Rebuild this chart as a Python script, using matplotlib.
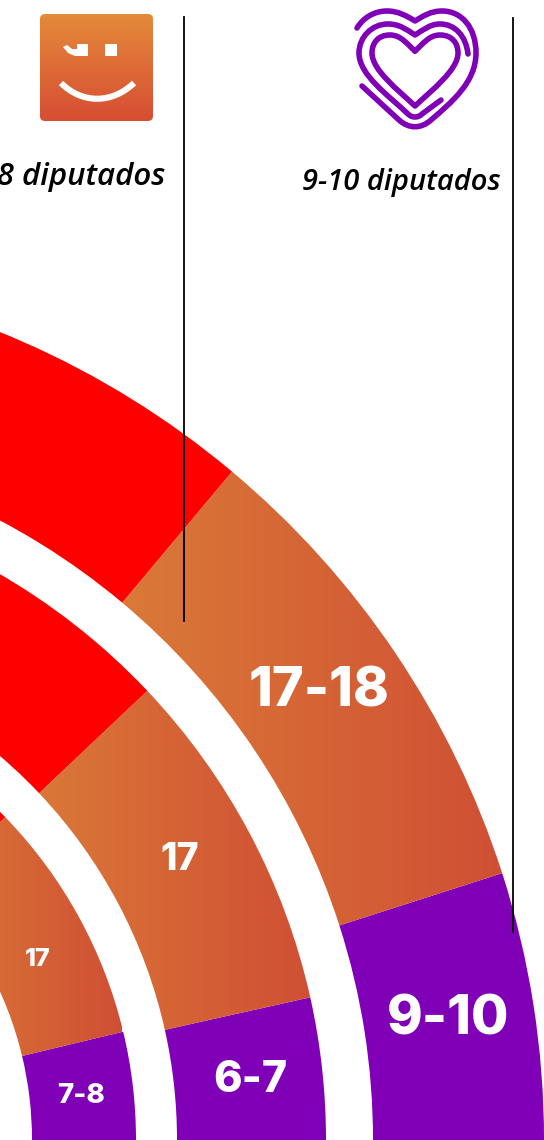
import numpy as np
import matplotlib
matplotlib.use('Agg')
import matplotlib.pyplot as plt
from matplotlib.colors import LinearSegmentedColormap
from matplotlib.patches import Wedge, FancyBboxPatch, PathPatch, Polygon, Rectangle
from matplotlib.path import Path

# share of the half circle (percent), inner ring to outer ring
purple_share = [7.5, 7.0, 9.9]
orange_share = [17.0, 17.1, 17.9]
purple_labels = ['7-8', '6-7', '9-10']
orange_labels = ['17', '17', '17-18']
party_labels = ['17-18 diputados', '9-10 diputados']

PURPLE = '#8000B8'
RED = '#FF0000'
LABEL_FONT = 'Inter'
cx, cy = -328, 1140
rings = [(360, 464), (505, 654), (701, 872)]
grad_x = [(-80, 122), (10, 312), (100, 502)]
orange_cmap = LinearSegmentedColormap.from_list('orange', ['#DB7C38', '#D04F34'])
icon_cmap = LinearSegmentedColormap.from_list('icon', ['#E58A3A', '#D64D33'])

fig = plt.figure(figsize=(5.44, 11.4), dpi=100)
ax = fig.add_axes([0, 0, 1, 1])


def sector(start, end, r_in, r_out, color):
    # y axis is flipped, so the angles change sign
    w = Wedge((cx, cy), r_out, -end * 1.8, -start * 1.8, width=r_out - r_in,
              facecolor=color, edgecolor='none')
    ax.add_patch(w)
    return w


grad = np.linspace(0, 1, 256)
for i in range(3):
    r_in, r_out = rings[i]
    p = purple_share[i]
    o = orange_share[i]
    sector(0, p, r_in, r_out, PURPLE)
    w = sector(p, p + o, r_in, r_out, 'none')
    im = ax.imshow(grad.reshape(1, -1), cmap=orange_cmap, aspect='auto',
                   extent=(grad_x[i][0], grad_x[i][1], 1140, 0), zorder=1)
    im.set_clip_path(w)
    sector(p + o, 100, r_in, r_out, RED)

# ring labels
ax.text(81, 1096, purple_labels[0], color='white', fontsize=20, family=LABEL_FONT, weight=800, ha='center', va='center')
ax.text(250, 1081, purple_labels[1], color='white', fontsize=31, family=LABEL_FONT, weight=800, ha='center', va='center')
ax.text(448, 1020, purple_labels[2], color='white', fontsize=39, family=LABEL_FONT, weight=800, ha='center', va='center')
ax.text(38, 959, orange_labels[0], color='white', fontsize=18, family=LABEL_FONT, weight=800, ha='center', va='center')
ax.text(180, 860, orange_labels[1], color='white', fontsize=27, family=LABEL_FONT, weight=800, ha='center', va='center')
ax.text(319, 692, orange_labels[2], color='white', fontsize=39, family=LABEL_FONT, weight=800, ha='center', va='center')

# party labels and lines
ax.text(165, 185, party_labels[0], color='black', fontsize=22.5, family='Open Sans', style='italic',
        weight=600, ha='right', va='baseline')
ax.text(501, 190, party_labels[1], color='black', fontsize=21, family='Open Sans', style='italic',
        weight=600, ha='right', va='baseline')
ax.plot([184, 184], [17, 621], color='black', lw=1.3, zorder=5)
ax.plot([513, 513], [18, 932], color='black', lw=1.3, zorder=5)

# orange icon
box = FancyBboxPatch((43, 17), 107, 101, boxstyle='round,pad=3,rounding_size=5',
                     facecolor='none', edgecolor='none')
ax.add_patch(box)
im = ax.imshow(grad.reshape(-1, 1), cmap=icon_cmap, aspect='auto', extent=(40, 153, 121, 14), zorder=2)
im.set_clip_path(box)
ax.add_patch(Rectangle((105, 44), 12, 12, facecolor='white', edgecolor='none', zorder=3))
ax.add_patch(Polygon([(88, 44), (88, 56), (75, 56), (68, 53), (63, 47), (67, 45), (72, 49), (77, 49), (77, 44)],
                     facecolor='white', edgecolor='none', zorder=3))
ax.add_patch(PathPatch(Path([(61, 83), (82, 104), (112, 104), (134, 83)],
                            [Path.MOVETO, Path.CURVE4, Path.CURVE4, Path.CURVE4]),
                       facecolor='none', edgecolor='white', lw=4.4, capstyle='butt', zorder=3))


def curves(points):
    codes = [Path.MOVETO]
    verts = [points[0]]
    for seg in points[1:]:
        if len(seg) == 3:
            verts.extend(seg)
            codes.extend([Path.CURVE4] * 3)
        else:
            verts.append(seg)
            codes.append(Path.LINETO)
    return Path(verts, codes)


# heart icon
heart_inner = [(415, 51), ((407, 44), (401, 35), (390, 35)), ((378, 35), (372, 43), (372, 53)),
               ((372, 70), (398, 90), (415, 106)), ((432, 90), (458, 70), (458, 53)),
               ((458, 43), (452, 35), (440, 35)), ((429, 35), (423, 44), (415, 51))]
heart_mid = [(468, 54), ((466, 36), (455, 24), (440, 24)), ((430, 24), (423, 30), (415, 35)),
             ((407, 30), (400, 24), (388, 24)), ((372, 24), (359, 37), (359, 53)),
             ((359, 75), (388, 95), (408, 114)), ((412, 118), (418, 118), (422, 114)), (441, 100)]
heart_out = [(357, 28), ((363, 18), (374, 11), (387, 11)), ((398, 11), (407, 16), (415, 21)),
             ((423, 16), (431, 11), (442, 11)), ((462, 11), (476, 28), (476, 53)),
             ((476, 82), (452, 102), (431, 120)), ((421, 129), (409, 129), (399, 120)), (362, 86)]
for h in [heart_inner, heart_mid, heart_out]:
    ax.add_patch(PathPatch(curves(h), facecolor='none', edgecolor=PURPLE, lw=4.0,
                           capstyle='round', joinstyle='round', zorder=3))

ax.set_xlim(0, 544)
ax.set_ylim(1140, 0)
ax.axis('off')
fig.savefig('out.png', dpi=100)
